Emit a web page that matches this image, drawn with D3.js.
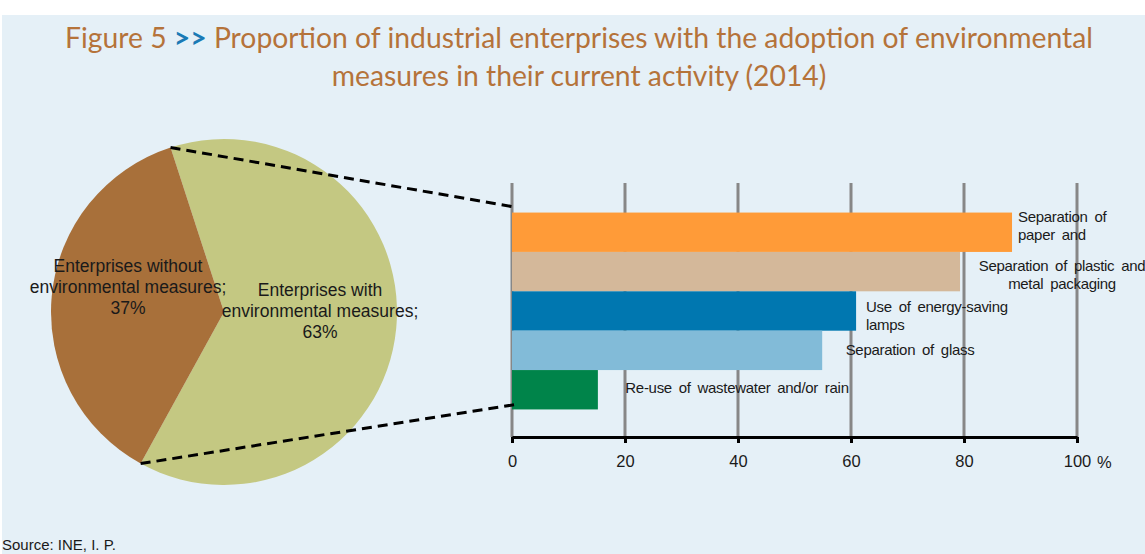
<!DOCTYPE html>
<html>
<head>
<meta charset="utf-8">
<script src="https://cdn.jsdelivr.net/npm/d3@7"></script>
<style>
  body { margin: 0; background: #fff; }
  svg { display: block; }
</style>
</head>
<body>
<script>
// pie data
var pieLabels = ["Enterprises with|environmental measures;|63%", "Enterprises without|environmental measures;|37%"];
var pieValues = [63, 37];
var pieColors = ["#c4c882", "#a8703a"];

// bar data
var barCats = ["Separation of paper and", "Separation of plastic and metal packaging", "Use of energy-saving lamps", "Separation of glass", "Re-use of wastewater and/or rain"];
var barLabels = [["Separation of", "paper and"], ["Separation of plastic and", "metal packaging"], ["Use of energy-saving", "lamps"], ["Separation of glass"], ["Re-use of wastewater and/or rain"]];
var barValues = [88.5, 79.3, 60.9, 54.9, 15.2];
var barColors = ["#ff9b38", "#d4b89a", "#0077b0", "#82bbd8", "#00844a"];
var xTicks = [0, 20, 40, 60, 80, 100];

var W = 1145, H = 554;

var svg = d3.select("body").append("svg")
    .attr("width", W)
    .attr("height", H);

svg.append("rect")
    .attr("x", 2).attr("y", 15)
    .attr("width", W - 2).attr("height", H - 15)
    .attr("fill", "#e5f0f7");

// title
var title = svg.append("text")
    .attr("x", 579).attr("y", 48)
    .attr("text-anchor", "middle")
    .style("font-family", "Lato, 'Open Sans', sans-serif")
    .style("font-size", "28.3px")
    .attr("fill", "#b5733a");
title.append("tspan").text("Figure 5 ");
title.append("tspan").text(">>").attr("fill", "#1a7ab5").style("font-weight", "bold");
title.append("tspan").text(" Proportion of industrial enterprises with the adoption of environmental");
svg.append("text")
    .attr("x", 579).attr("y", 86)
    .attr("text-anchor", "middle")
    .style("font-family", "Lato, 'Open Sans', sans-serif")
    .style("font-size", "28.3px")
    .attr("fill", "#b5733a")
    .text("measures in their current activity (2014)");

// pie
var cx = 224, cy = 312, r = 173;
var a0 = -18 * Math.PI / 180;
var pie = d3.pie().sort(null).startAngle(a0).endAngle(a0 + 2 * Math.PI);
var arcs = pie(pieValues);
var arc = d3.arc().innerRadius(0).outerRadius(r);

var pieG = svg.append("g").attr("transform", "translate(" + cx + "," + cy + ")");
pieG.selectAll("path")
    .data(arcs)
    .enter().append("path")
    .attr("d", arc)
    .attr("fill", (d, i) => pieColors[i]);

var labelPos = [[96, -16], [-96, -40]];
arcs.forEach(function (d, i) {
    var t = pieG.append("text")
        .attr("text-anchor", "middle")
        .style("font-family", "'Liberation Sans', Arial, sans-serif")
        .style("font-size", "17.5px")
        .attr("fill", "#1a1a1a");
    pieLabels[i].split("|").forEach(function (line, k) {
        t.append("tspan")
            .attr("x", labelPos[i][0])
            .attr("y", labelPos[i][1] + k * 21)
            .text(line);
    });
});

// bar chart
var x = d3.scaleLinear().domain([0, 100]).range([512, 1077]);
var y = d3.scaleBand().domain(barCats).range([185, 437]).paddingInner(0).paddingOuter(0.7);

svg.append("g").selectAll("line")
    .data(xTicks)
    .enter().append("line")
    .attr("x1", d => x(d)).attr("x2", d => x(d))
    .attr("y1", 183).attr("y2", 437)
    .attr("stroke", "#878787")
    .attr("stroke-width", 3);

svg.append("g").selectAll("rect")
    .data(barValues)
    .enter().append("rect")
    .attr("x", x(0))
    .attr("y", (d, i) => y(barCats[i]))
    .attr("width", d => x(d) - x(0))
    .attr("height", y.bandwidth())
    .attr("fill", (d, i) => barColors[i]);

// axis
var axis = svg.append("g")
    .attr("transform", "translate(0,437)")
    .call(d3.axisBottom(x).tickValues(xTicks).tickSize(6).tickPadding(12).tickSizeOuter(0));
axis.select(".domain").attr("stroke", "#000").attr("stroke-width", 3);
axis.selectAll(".tick line").attr("stroke", "#000").attr("stroke-width", 3);
axis.selectAll(".tick text")
    .style("font-family", "'Liberation Sans', Arial, sans-serif")
    .style("font-size", "16.5px")
    .attr("fill", "#1a1a1a");
svg.append("text")
    .attr("x", x(100) + 20).attr("y", 468)
    .style("font-family", "'Liberation Sans', Arial, sans-serif")
    .style("font-size", "16.5px")
    .attr("fill", "#1a1a1a")
    .text("%");

// bar labels (plastic label runs off the right edge, as in the original)
var lblPos = [
    { x: 1018, y: 222, anchor: "start" },
    { x: 1062, y: 271, anchor: "middle" },
    { x: 866, y: 312, anchor: "start" },
    { x: 910, y: 355, anchor: "middle" },
    { x: 737, y: 393, anchor: "middle" }
];
barLabels.forEach(function (lines, i) {
    var t = svg.append("text")
        .attr("text-anchor", lblPos[i].anchor)
        .style("font-family", "'Liberation Sans', Arial, sans-serif")
        .style("font-size", "15px")
        .style("letter-spacing", "-0.3px")
        .style("word-spacing", "3px")
        .attr("fill", "#1a1a1a");
    lines.forEach(function (line, k) {
        t.append("tspan")
            .attr("x", lblPos[i].x)
            .attr("y", lblPos[i].y + k * 18)
            .text(line);
    });
});

// connector lines from pie slice to bars
var sAng = arcs[1].startAngle, eAng = arcs[1].endAngle;
var pTop = [cx + r * Math.sin(eAng), cy - r * Math.cos(eAng)];
var pBot = [cx + r * Math.sin(sAng), cy - r * Math.cos(sAng)];
var connectors = [
    [pTop, [x(0), y(barCats[0]) - 6]],
    [pBot, [x(0) + 4, y(barCats[4]) + y.bandwidth() - 5]]
];
svg.append("g").selectAll("line")
    .data(connectors)
    .enter().append("line")
    .attr("x1", d => d[0][0]).attr("y1", d => d[0][1])
    .attr("x2", d => d[1][0]).attr("y2", d => d[1][1])
    .attr("stroke", "#000")
    .attr("stroke-width", 3)
    .attr("stroke-dasharray", "10,6");

// source
svg.append("text")
    .attr("x", 2).attr("y", 550)
    .style("font-family", "'Liberation Sans', Arial, sans-serif")
    .style("font-size", "15px")
    .attr("fill", "#1a1a1a")
    .text("Source: INE, I. P.");
</script>
</body>
</html>
